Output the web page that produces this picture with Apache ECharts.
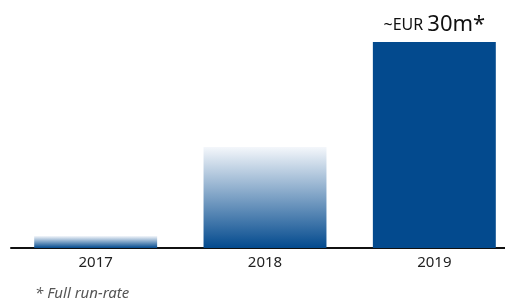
<!DOCTYPE html>
<html>
<head>
<meta charset="utf-8">
<script src="https://cdn.jsdelivr.net/npm/echarts@6/dist/echarts.min.js"></script>
<style>
html,body{margin:0;padding:0;background:#fff;}
#chart{width:505px;height:301px;}
</style>
</head>
<body>
<div id="chart"></div>
<script>
// data
var years = ["2017", "2018", "2019"];
var savings = [1.75, 14.7, 30];
var topLabel = ["", "", "~EUR 30m*"];

var dark = "#034a8e";
function fade() {
  return new echarts.graphic.LinearGradient(0, 0, 0, 1, [
    { offset: 0, color: "#f4f7fb" },
    { offset: 1, color: dark }
  ]);
}

var chart = echarts.init(document.getElementById("chart"));
var option = {
  animation: false,
  grid: { left: 11, top: 42, width: 508, height: 206, outerBoundsMode: "none", containLabel: false },
  xAxis: {
    type: "category",
    data: years,
    axisTick: { show: false },
    axisLine: { lineStyle: { color: "#111", width: 2 } },
    axisLabel: { color: "#222", fontSize: 15, fontFamily: "Noto Sans", margin: 7 }
  },
  yAxis: { type: "value", min: 0, max: 30, show: false, splitLine: { show: false } },
  series: [{
    type: "bar",
    barWidth: "72.6%",
    data: savings.map(function (v, i) {
      return {
        value: v,
        itemStyle: { color: i === 2 ? dark : fade() },
        label: {
          show: topLabel[i] !== "",
          position: "top",
          distance: 6,
          formatter: function () { return "{s|~EUR }{b|30m*}"; },
          rich: {
            s: { fontSize: 16, color: "#111", fontFamily: "Noto Sans" },
            b: { fontSize: 22, color: "#111", fontFamily: "Noto Sans" }
          }
        }
      };
    })
  }],
  graphic: [{
    type: "text",
    left: 35,
    top: 286,
    style: { text: "* Full run-rate", fontSize: 15, fontStyle: "italic", fill: "#555", fontFamily: "Noto Sans" }
  }]
};
chart.setOption(option);
</script>
</body>
</html>
